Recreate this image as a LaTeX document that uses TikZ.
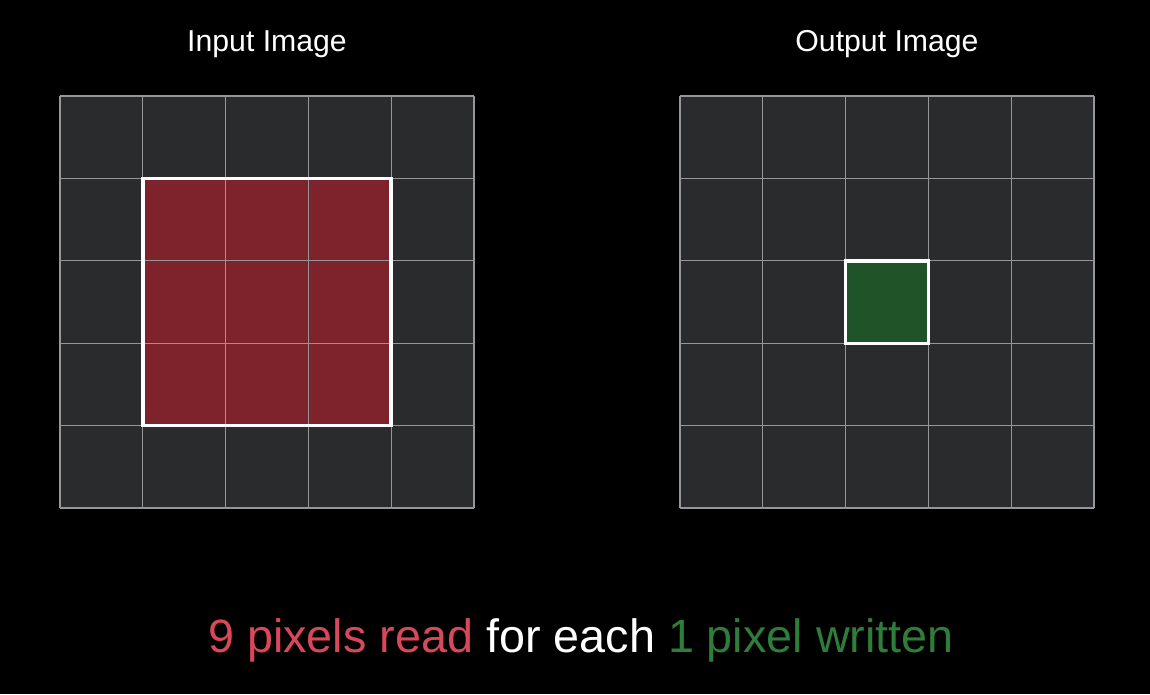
\documentclass[tikz,border=0pt]{standalone}
\usepackage{fontspec}
\setmainfont{Liberation Sans}
\usetikzlibrary{positioning}
\definecolor{bgBlack}{RGB}{0,0,0}
\definecolor{cellFill}{RGB}{42,43,45}
\definecolor{cellLine}{RGB}{150,150,152}
\definecolor{readFill}{RGB}{126,34,44}
\definecolor{writeFill}{RGB}{31,84,41}
\definecolor{readText}{RGB}{217,72,90}
\definecolor{writeText}{RGB}{47,125,58}

\begin{document}
\begin{tikzpicture}[
      x=0.02cm, y=-0.02cm,
      title/.style={text=white, font=\fontsize{17.2}{20}\selectfont, anchor=base, inner sep=0pt},
      caption/.style={text=white, font=\fontsize{26.6}{30}\selectfont, anchor=base, inner sep=0pt},
      gridline/.style={draw=cellLine, line width=0.6pt},
      window/.style={draw=white, line width=2pt}
  ]
      \fill[bgBlack] (0,0) rectangle (1150,694);
      \useasboundingbox (0,0) rectangle (1150,694);
      % input grid
      \fill[cellFill] (60,96) rectangle (474,508);
      \fill[readFill] (142.8,178.8) rectangle (391.2,425.2);
      \foreach \i in {0,...,5} {
          \draw[gridline] (60+82.8*\i,96) -- (60+82.8*\i,508);
          \draw[gridline] (60,96+82.4*\i) -- (474,96+82.4*\i);
      }
      \draw[window] (142.8,178.4) rectangle (391.2,425.6);
      % output grid
      \fill[cellFill] (680,96) rectangle (1094,508);
      \fill[writeFill] (845.6,261.2) rectangle (928.4,343.6);
      \foreach \i in {0,...,5} {
          \draw[gridline] (680+82.8*\i,96) -- (680+82.8*\i,508);
          \draw[gridline] (680,96+82.4*\i) -- (1094,96+82.4*\i);
      }
      \draw[window] (845.6,261.2) rectangle (928.4,343.6);
      % labels
      \node[title] (intitle) at (267,51) {Input Image};
      \node[title] (outtitle) at (887,51) {Output Image};
      \node[caption] (summary) at (581,652) {{\color{readText}9 pixels read} for each {\color{writeText}1 pixel written}};
  \end{tikzpicture}
\end{document}
